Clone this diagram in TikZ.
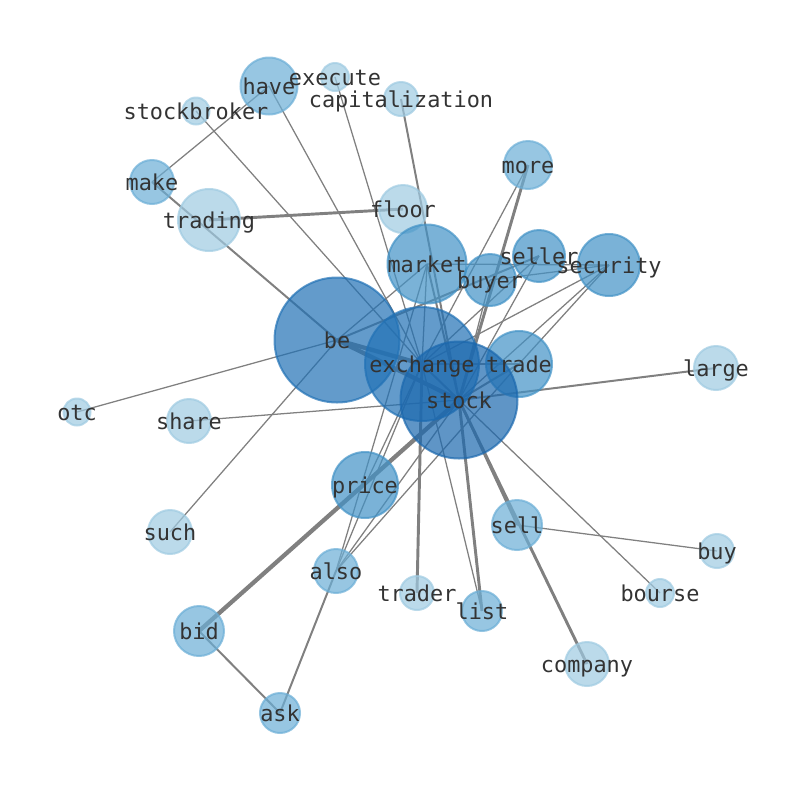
\documentclass[tikz,border=0pt]{standalone}
\usepackage{fontspec}
\newfontfamily\lblfont{DejaVu Sans Mono}
\definecolor{cA}{HTML}{9ECAE1}
\definecolor{cB}{HTML}{6BAED6}
\definecolor{cC}{HTML}{4292C6}
\definecolor{cD}{HTML}{2171B5}
\definecolor{cE}{HTML}{1B68AE}
\definecolor{txt}{HTML}{333333}
\definecolor{edgec}{HTML}{808080}
\begin{document}
\begin{tikzpicture}[x=0.75pt,y=-0.75pt,
  bub/.style={circle, inner sep=0pt, outer sep=0pt, fill opacity=0.7, draw opacity=0.7, line width=1.5pt},
  lbl/.style={font=\lblfont\fontsize{16.4}{16.4}\selectfont, text=txt, inner sep=0pt, text height=0.74em, text depth=0pt, yshift=-2.4pt},
  ea/.style={draw=edgec, line width=0.95pt},
  eb/.style={draw=edgec, line width=1.5pt},
  ec/.style={draw=edgec, line width=2.2pt},
  ed/.style={draw=edgec, line width=3.2pt}]
\useasboundingbox (0,0) rectangle (794,790);
\foreach \n/\x/\y in {be/337/340, exchange/422/364, stock/459/400, market/427/264,
  trade/519/364, buyer/490/280, seller/539/256, security/609/265, more/528/165,
  floor/403/209, trading/209/220, have/269/86, execute/335/77, capitalization/401/99,
  stockbroker/196/111, make/152/182, large/716/368, otc/77/412, share/189/421,
  price/365/485, such/170/532, sell/517/525, buy/717/551, also/336/571,
  trader/417/593, list/482/611, bourse/660/593, bid/199/631, ask/280/713, company/587/664}
  \coordinate (p-\n) at (\x,\y);
% edges
\draw[ed] (p-be) -- (p-exchange);
\draw[ed] (p-be) -- (p-stock);
\draw[eb] (p-exchange) -- (p-stock);
\draw[eb] (p-make) -- (p-be);
\draw[ea] (p-make) -- (p-have);
\draw[ea] (p-stockbroker) -- (p-exchange);
\draw[ea] (p-have) -- (p-exchange);
\draw[ea] (p-execute) -- (p-exchange);
\draw[eb] (p-capitalization) -- (p-stock);
\draw[ec] (p-trading) -- (p-floor);
\draw[eb] (p-market) -- (p-stock);
\draw[ea] (p-market) -- (p-exchange);
\draw[ea] (p-market) -- (p-be);
\draw[ea] (p-market) -- (p-security);
\draw[ec] (p-more) -- (p-stock);
\draw[ea] (p-more) -- (p-exchange);
\draw[eb] (p-seller) -- (p-be);
\draw[ea] (p-seller) -- (p-stock);
\draw[ea] (p-seller) -- (p-exchange);
\draw[ea] (p-buyer) -- (p-stock);
\draw[ea] (p-buyer) -- (p-security);
\draw[ea] (p-security) -- (p-stock);
\draw[ea] (p-security) -- (p-exchange);
\draw[ea] (p-trade) -- (p-security);
\draw[eb] (p-trade) -- (p-stock);
\draw[eb] (p-trade) -- (p-exchange);
\draw[eb] (p-stock) -- (p-large);
\draw[ea] (p-stock) -- (p-share);
\draw[ea] (p-be) -- (p-otc);
\draw[ea] (p-be) -- (p-such);
\draw[ed] (p-bid) -- (p-stock);
\draw[ea] (p-price) -- (p-exchange);
\draw[ea] (p-also) -- (p-stock);
\draw[ea] (p-also) -- (p-exchange);
\draw[ea] (p-also) -- (p-market);
\draw[ea] (p-also) -- (p-trade);
\draw[eb] (p-also) -- (p-ask);
\draw[eb] (p-bid) -- (p-ask);
\draw[ec] (p-trader) -- (p-exchange);
\draw[ec] (p-list) -- (p-stock);
\draw[ea] (p-list) -- (p-exchange);
\draw[eb] (p-stock) -- (p-sell);
\draw[ea] (p-sell) -- (p-buy);
\draw[ec] (p-stock) -- (p-company);
\draw[ea] (p-stock) -- (p-bourse);
% nodes
\foreach \n/\r/\c in {trading/32/cA, floor/25/cA, execute/15/cA, capitalization/18/cA,
  stockbroker/14.5/cA, large/23/cA, otc/14.5/cA, share/23/cA, such/23/cA, trader/18/cA,
  bourse/15/cA, company/23/cA, buy/18/cA,
  have/29.5/cB, make/23/cB, more/25/cB, sell/26/cB, also/23/cB, bid/26/cB, ask/21/cB, list/21/cB,
  market/40.5/cC, trade/34/cC, seller/27/cC, security/32/cC, buyer/27/cC, price/34/cC,
  be/63.5/cD, exchange/58/cD, stock/59.5/cE}
  \node[bub, fill=\c, draw=\c, minimum size={1.5pt*(\r-1)}] (\n) at (p-\n) {};
% labels
\foreach \n in {trading, floor, execute, capitalization, stockbroker, large, otc, share,
  such, trader, bourse, company, buy, have, make, more, sell, also, bid, ask, list,
  market, trade, seller, security, buyer, price, be, exchange, stock}
  \node[lbl] (\n-t) at (p-\n) {\n};
\end{tikzpicture}
\end{document}
